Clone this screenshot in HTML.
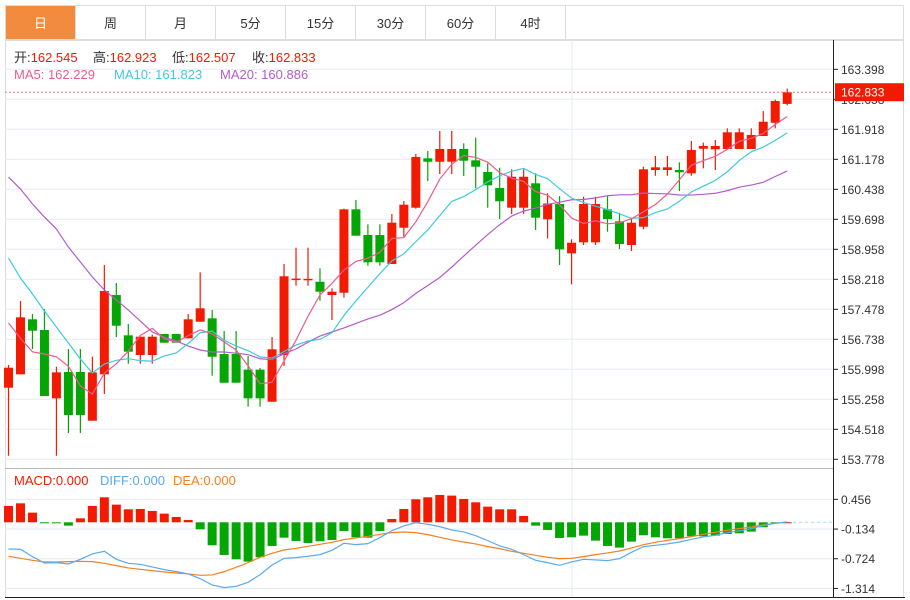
<!DOCTYPE html>
<html><head><meta charset="utf-8">
<style>
html,body{margin:0;padding:0;background:#fff;width:910px;height:600px;overflow:hidden;font-family:"Liberation Sans","Noto Sans CJK SC",sans-serif;}
#tabs{position:absolute;left:5px;top:5px;width:899px;height:35px;border:1px solid #ddd;border-bottom:1px solid #ddd;box-sizing:border-box;display:flex;}
.tab{width:70px;height:100%;border-right:1px solid #ddd;box-sizing:border-box;display:flex;align-items:center;justify-content:center;font-size:13px;color:#333;}
.tab.active{background:#f28b3e;color:#fff;}
svg{position:absolute;left:0;top:0;}
</style></head><body>
<div id="tabs">
<div class="tab active">日</div>
<div class="tab">周</div>
<div class="tab">月</div>
<div class="tab">5分</div>
<div class="tab">15分</div>
<div class="tab">30分</div>
<div class="tab">60分</div>
<div class="tab">4时</div>
</div>
<svg id="chart" width="910" height="600"></svg>
<script>
const opens=[155.544,155.874,157.231,156.967,155.282,155.931,155.931,154.730,155.874,157.830,156.836,156.350,156.350,156.868,156.868,156.762,157.172,157.255,156.375,156.375,155.988,155.988,155.198,156.350,158.225,158.220,158.158,157.830,157.887,159.944,159.310,159.310,158.595,159.490,159.984,161.202,161.118,161.118,161.432,161.153,160.864,160.470,159.984,159.984,160.586,159.698,160.075,158.859,159.130,159.130,159.944,159.648,159.064,159.515,160.914,160.914,160.914,160.832,161.439,161.424,161.432,161.432,161.432,161.752,162.080,162.545];
const highs=[156.104,157.682,157.362,157.485,156.062,156.498,156.498,156.308,158.570,158.126,157.115,156.802,156.850,156.868,156.868,157.362,158.390,157.460,156.942,156.942,156.326,156.030,156.794,158.595,158.997,158.997,158.489,157.995,159.960,160.174,159.574,159.574,159.828,160.149,161.308,161.382,161.876,161.876,161.572,161.710,161.079,160.970,160.931,160.931,160.832,160.339,160.272,159.204,160.255,160.255,160.272,159.860,159.737,160.995,161.259,161.259,161.104,161.629,161.587,161.654,161.942,161.942,161.942,162.369,162.650,162.923];
const lows=[153.866,155.874,156.498,155.339,153.866,154.426,154.426,154.730,155.388,156.794,156.136,156.136,156.136,156.654,156.654,156.762,157.172,155.840,155.667,155.667,155.075,155.075,155.198,156.079,158.060,158.060,157.690,157.214,157.764,159.293,158.553,158.553,158.595,159.268,159.960,160.642,160.815,160.815,160.766,160.462,159.984,159.705,159.828,159.828,159.434,159.224,158.570,158.094,159.064,159.064,159.392,158.965,158.916,159.451,160.773,160.773,160.396,160.773,160.956,160.914,161.432,161.432,161.432,161.752,161.942,162.507];
const closes=[156.037,157.280,156.950,155.339,155.923,154.870,154.870,155.923,157.929,157.073,156.432,156.802,156.802,156.654,156.654,157.231,157.502,156.308,155.667,155.667,155.282,155.282,156.491,158.292,158.235,158.230,157.912,157.912,159.944,159.293,158.637,158.637,159.614,160.058,161.234,161.118,161.432,161.432,161.143,160.995,160.536,160.142,160.748,160.748,159.737,160.087,158.957,159.120,160.075,160.075,159.705,159.088,159.614,160.931,160.980,160.980,160.857,161.407,161.506,161.506,161.844,161.844,161.777,162.105,162.616,162.833];
const ma5Lead=[157.14,156.76,156.43,156.375];
const ma10Lead=[158.743,158.250,157.855,157.436,157.041,156.646,156.252,155.906,156.128];
const ma20Lead=[160.741,160.445,160.075,159.754,159.458,159.014,158.644,158.274,157.954,157.707,157.460,157.189,156.918,156.794,156.696,156.572,156.474,156.424,156.424];
const maLegendVals=[162.229,161.823,160.886];
const macdHist=[0.325,0.377,0.192,-0.02,-0.005,-0.066,0.079,0.325,0.497,0.351,0.258,0.265,0.225,0.172,0.106,0.046,-0.139,-0.457,-0.649,-0.735,-0.781,-0.695,-0.470,-0.305,-0.371,-0.411,-0.377,-0.351,-0.172,-0.298,-0.305,-0.172,0.066,0.265,0.457,0.497,0.543,0.530,0.464,0.397,0.311,0.258,0.258,0.126,-0.066,-0.152,-0.311,-0.298,-0.265,-0.364,-0.470,-0.503,-0.384,-0.258,-0.298,-0.318,-0.318,-0.278,-0.278,-0.265,-0.232,-0.219,-0.185,-0.099,-0.02,0];
const diffVals=[-0.530,-0.536,-0.682,-0.808,-0.801,-0.828,-0.735,-0.629,-0.576,-0.735,-0.815,-0.834,-0.887,-0.940,-0.980,-1.026,-1.119,-1.245,-1.298,-1.272,-1.192,-1.040,-0.848,-0.715,-0.702,-0.675,-0.642,-0.556,-0.417,-0.444,-0.424,-0.305,-0.166,-0.073,-0.007,-0.040,-0.086,-0.152,-0.192,-0.265,-0.364,-0.470,-0.536,-0.642,-0.755,-0.801,-0.854,-0.788,-0.735,-0.748,-0.762,-0.722,-0.596,-0.483,-0.457,-0.430,-0.391,-0.338,-0.291,-0.258,-0.205,-0.172,-0.126,-0.066,-0.020,0.007];
const deaVals=[-0.675,-0.715,-0.755,-0.788,-0.788,-0.781,-0.775,-0.781,-0.815,-0.861,-0.907,-0.934,-0.960,-0.987,-1.007,-1.026,-1.053,-1.046,-0.980,-0.894,-0.801,-0.695,-0.616,-0.550,-0.517,-0.477,-0.437,-0.397,-0.344,-0.311,-0.278,-0.238,-0.205,-0.192,-0.205,-0.245,-0.298,-0.351,-0.391,-0.430,-0.483,-0.523,-0.576,-0.616,-0.656,-0.695,-0.722,-0.715,-0.682,-0.642,-0.609,-0.570,-0.510,-0.444,-0.397,-0.358,-0.325,-0.285,-0.238,-0.199,-0.159,-0.126,-0.093,-0.053,-0.020,0.007];
const priceTicks=[163.398,162.658,161.918,161.178,160.438,159.698,158.958,158.218,157.478,156.738,155.998,155.258,154.518,153.778];
const macdTicks=[0.456,-0.134,-0.724,-1.314];

const RED='#f21a00',GREEN='#04a603';
const svg=document.getElementById('chart');
const NS='http://www.w3.org/2000/svg';
function mk(tag,attrs,parent){const e=document.createElementNS(NS,tag);for(const k in attrs)e.setAttribute(k,attrs[k]);(parent||svg).appendChild(e);return e;}
const xOf=i=>8.5+i*11.98;
const yP=v=>69.3+(163.398-v)*40.54;
const yM=v=>522.3-v*50.34;

let f=mk('rect',{x:5.5,y:40.5,width:898,height:557,fill:'none',stroke:'#ddd'});


priceTicks.forEach(v=>{const g=mk('line',{x1:5,x2:833,y1:yP(v),y2:yP(v),stroke:'#e6ebf0'});

});
macdTicks.forEach(v=>{const g=mk('line',{x1:5,x2:833,y1:yM(v),y2:yM(v),stroke:'#e6ebf0'});

});
let vg=mk('line',{x1:572,x2:572,y1:40,y2:598,stroke:'#e6ebf0'});


let sep=mk('line',{x1:5,x2:833,y1:468.5,y2:468.5,stroke:'#bbb'});


let bl=mk('line',{x1:5,x2:905,y1:597.5,y2:597.5,stroke:'#222'});


let ax=mk('line',{x1:833.5,x2:833.5,y1:40,y2:598,stroke:'#222'});


priceTicks.forEach(v=>{const y=yP(v);mk('line',{x1:833,x2:838,y1:y,y2:y,stroke:'#222'});
const t=mk('text',{x:841,y:y+4.5,'font-size':12,fill:'#333'});t.textContent=v.toFixed(3);

});
macdTicks.forEach(v=>{const y=yM(v);mk('line',{x1:833,x2:838,y1:y,y2:y,stroke:'#222'});
const t=mk('text',{x:841,y:y+4.5,'font-size':12,fill:'#333'});t.textContent=v.toFixed(3);

});

for(let i=0;i<closes.length;i++){
  const up=closes[i]>=opens[i];const col=up?RED:GREEN;const x=xOf(i);
  const w=mk('line',{x1:x,x2:x,y1:yP(highs[i]),y2:yP(lows[i]),stroke:col,'stroke-width':1.2});
  
  
  const top=yP(Math.max(opens[i],closes[i])),bot=yP(Math.min(opens[i],closes[i]));
  const b=mk('rect',{x:x-4.5,y:top,width:9,height:Math.max(1.5,bot-top),fill:col});
  
  
}
function ma(n,lead){return closes.map((c,i)=>{if(i<n-1)return lead[i];let s=0;for(let k=i-n+1;k<=i;k++)s+=closes[k];return s/n;});}
function line(vals,fn,col,name){const p=mk('polyline',{points:vals.map((v,i)=>xOf(i)+','+fn(v)).join(' '),fill:'none',stroke:col,'stroke-width':1.2});

}
line(ma(20,ma20Lead),yP,'#b45ccb','ma20-line');
line(ma(10,ma10Lead),yP,'#3ec9e0','ma10-line');
line(ma(5,ma5Lead),yP,'#ef5b8e','ma5-line');
const lp=closes[closes.length-1];
let dl=mk('line',{x1:5,x2:833,y1:yP(lp),y2:yP(lp),stroke:'#f47a7a','stroke-dasharray':'2,2'});


let lr=mk('rect',{x:835,y:yP(lp)-9,width:69,height:18,fill:RED});


let lt=mk('text',{x:841,y:yP(lp)+4.5,'font-size':12,fill:'#fff'});lt.textContent=lp.toFixed(3);


const last=macdHist.length-1;
let zl=mk('line',{x1:xOf(last),x2:833,y1:yM(0),y2:yM(0),stroke:'#a8d8f0','stroke-dasharray':'3,3'});


macdHist.forEach((v,i)=>{const y0=yM(0),y1=yM(v);
const r=mk('rect',{x:xOf(i)-4.5,y:Math.min(y0,y1),width:9,height:Math.max(1,Math.abs(y1-y0)),fill:v>=0?RED:GREEN});

});
line(deaVals,yM,'#f5801f','dea-line');
line(diffVals,yM,'#5aaaf0','diff-line');

function txt(x,y,s,col,name){const t=mk('text',{x:x,y:y,'font-size':13,fill:col});t.textContent=s;

return t;}
const o=opens[last],h=highs[last],l=lows[last],c=closes[last];
[[14,'开:',o,'open-label'],[93,'高:',h,'high-label'],[172,'低:',l,'low-label'],[252,'收:',c,'close-label']].forEach(a=>{
 const t=mk('text',{x:a[0],y:62,'font-size':13,fill:'#333'});
 
 
 const s1=mk('tspan',{},t);s1.textContent=a[1];const s2=mk('tspan',{fill:RED},t);s2.textContent=a[2].toFixed(3);});
txt(14,79,'MA5: '+maLegendVals[0].toFixed(3),'#ef5b8e','ma5-legend');
txt(114,79,'MA10: '+maLegendVals[1].toFixed(3),'#3ec9e0','ma10-legend');
txt(220,79,'MA20: '+maLegendVals[2].toFixed(3),'#b45ccb','ma20-legend');
txt(14,485,'MACD:0.000',RED,'macd-legend');
txt(100,485,'DIFF:0.000','#5aaaf0','diff-legend');
txt(173,485,'DEA:0.000','#f5801f','dea-legend');
</script>
</body></html>
